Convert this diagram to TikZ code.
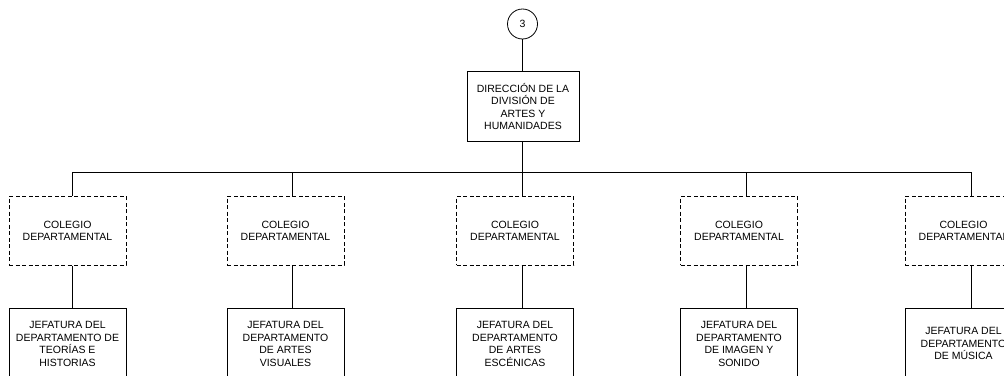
\documentclass[tikz,border=0pt]{standalone}
\usepackage{fontspec}
\setmainfont{Liberation Sans}
\usepackage{tikz}
\usetikzlibrary{calc}
\tikzset{
  base/.style={draw=black, line width=0.8pt},
  unit/.style={draw=black, line width=0.8pt, rectangle, align=center, inner sep=1pt,
    font=\fontsize{10.5}{12.5}\selectfont},
  dirbox/.style={unit, minimum width=112pt, minimum height=70pt},
  colbox/.style={unit, dash pattern=on 4pt off 2.5pt, minimum width=117pt, minimum height=69pt},
  jefbox/.style={unit, minimum width=117pt, minimum height=70pt},
  refcirc/.style={draw=black, line width=0.8pt, circle, minimum size=30pt, inner sep=0pt,
    font=\fontsize{10.5}{12.5}\selectfont},
}

\begin{document}
\begin{tikzpicture}[x=1pt,y=-1pt]
  \useasboundingbox (0,0) rectangle (1004,375);

  \node[refcirc] (ref) at (522.5,24) {3};
  \node[dirbox] (dir) at (523,106.7) {DIRECCIÓN DE LA\\DIVISIÓN DE\\ARTES Y\\HUMANIDADES};

  % colegios
  \node[colbox] (col1) at (67.5,230.7) {COLEGIO\\DEPARTAMENTAL};
  \node[colbox] (col2) at (285.5,230.7) {COLEGIO\\DEPARTAMENTAL};
  \node[colbox] (col3) at (515,230.7) {COLEGIO\\DEPARTAMENTAL};
  \node[colbox] (col4) at (739,230.7) {COLEGIO\\DEPARTAMENTAL};
  \node[colbox] (col5) at (963.5,230.7) {COLEGIO\\DEPARTAMENTAL};

  % jefaturas
  \node[jefbox] (jef1) at (67.5,343.7) {JEFATURA DEL\\DEPARTAMENTO DE\\TEORÍAS E\\HISTORIAS};
  \node[jefbox] (jef2) at (285.5,343.7) {JEFATURA DEL\\DEPARTAMENTO\\DE ARTES\\VISUALES};
  \node[jefbox] (jef3) at (515,343.7) {JEFATURA DEL\\DEPARTAMENTO\\DE ARTES\\ESCÉNICAS};
  \node[jefbox] (jef4) at (739,343.7) {JEFATURA DEL\\DEPARTAMENTO\\DE IMAGEN Y\\SONIDO};
  \node[jefbox] (jef5) at (963.5,343.7) {JEFATURA DEL\\DEPARTAMENTO\\DE MÚSICA};

  % taps on the bus
  \coordinate (tap1) at (72,172);
  \coordinate (tap2) at (292.5,172);
  \coordinate (tap3) at (522,172);
  \coordinate (tap4) at (746,172);
  \coordinate (tap5) at (971,172);

  \draw[base] (ref.south -| tap3) -- (dir.north -| tap3);
  \draw[base] (dir.south -| tap3) -- (tap3);
  \draw[base] (tap1) -- (tap5);

  \draw[base] (tap1) -- (tap1 |- col1.north);
  \draw[base] (tap2) -- (tap2 |- col2.north);
  \draw[base] (tap3) -- (tap3 |- col3.north);
  \draw[base] (tap4) -- (tap4 |- col4.north);
  \draw[base] (tap5) -- (tap5 |- col5.north);

  \draw[base] (tap1 |- col1.south) -- (tap1 |- jef1.north);
  \draw[base] (tap2 |- col2.south) -- (tap2 |- jef2.north);
  \draw[base] (tap3 |- col3.south) -- (tap3 |- jef3.north);
  \draw[base] (tap4 |- col4.south) -- (tap4 |- jef4.north);
  \draw[base] (tap5 |- col5.south) -- (tap5 |- jef5.north);
\end{tikzpicture}
\end{document}
